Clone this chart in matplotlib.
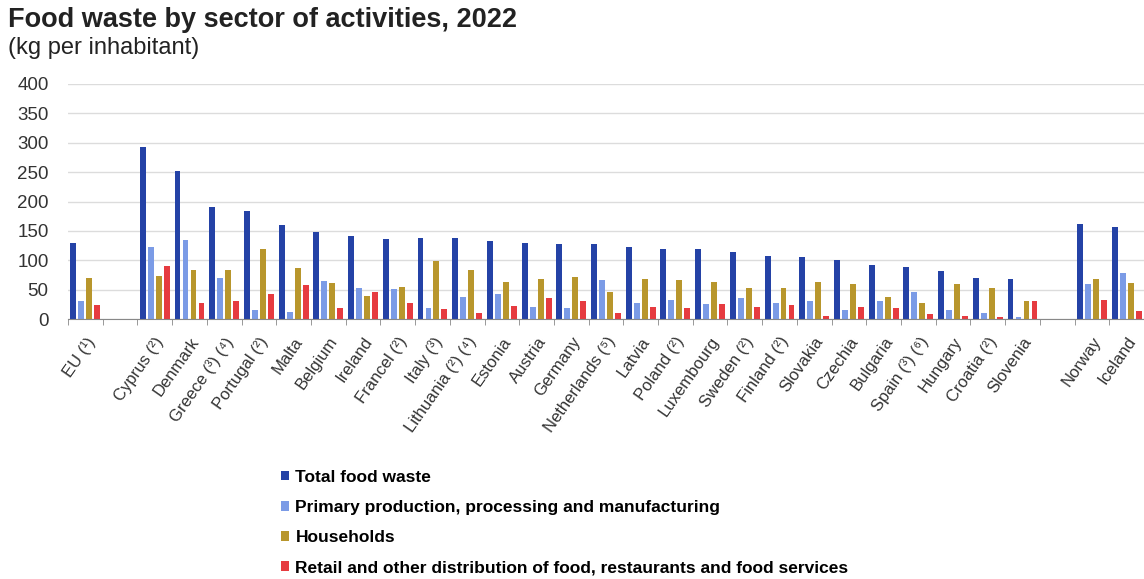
import matplotlib
matplotlib.use("Agg")
import matplotlib.pyplot as plt
import numpy as np

plt.rcParams['font.family'] = ['Liberation Sans', 'DejaVu Sans']

# '' = empty slot in the chart
countries = ['EU (¹)', '', 'Cyprus (²)', 'Denmark', 'Greece (³) (⁴)', 'Portugal (²)', 'Malta',
             'Belgium', 'Ireland', 'Francel (²)', 'Italy (³)', 'Lithuania (²) (⁴)', 'Estonia',
             'Austria', 'Germany', 'Netherlands (⁵)', 'Latvia', 'Poland (²)', 'Luxembourg',
             'Sweden (²)', 'Finland (²)', 'Slovakia', 'Czechia', 'Bulgaria', 'Spain (³) (⁶)',
             'Hungary', 'Croatia (²)', 'Slovenia', '', 'Norway', 'Iceland']

total = [129, np.nan, 292, 252, 191, 183, 160, 148, 142, 137, 138, 138, 132, 130, 128, 128,
         122, 120, 120, 114, 107, 105, 100, 92, 88, 82, 70, 68, np.nan, 162, 157]
primary = [31, np.nan, 122, 135, 70, 15, 12, 64, 53, 51, 19, 37, 43, 20, 18, 67,
           28, 32, 26, 35, 28, 30, 15, 30, 46, 15, 11, 3, np.nan, 59, 78]
households = [70, np.nan, 74, 84, 84, 120, 86, 62, 40, 55, 98, 84, 63, 68, 72, 46,
              68, 67, 63, 53, 53, 63, 59, 38, 28, 59, 53, 30, np.nan, 68, 61]
retail = [24, np.nan, 91, 27, 31, 43, 58, 18, 46, 27, 17, 11, 22, 35, 30, 11,
          20, 19, 26, 20, 23, 5, 20, 18, 9, 5, 3, 30, np.nan, 32, 13]

series = [
    ('Total food waste', total, '#2442a6'),
    ('Primary production, processing and manufacturing', primary, '#7b9be6'),
    ('Households', households, '#b8962c'),
    ('Retail and other distribution of food, restaurants and food services', retail, '#e63b40'),
]

fig = plt.figure(figsize=(11.44, 5.79), dpi=100)
ax = fig.add_axes([68/1144, 260/579, 1 - 68/1144, 235/579])

x = np.arange(len(countries))
w = 0.17
pitch = 0.23
for i, (name, vals, col) in enumerate(series):
    ax.bar(x + (i - 1.5) * pitch, vals, width=w, color=col, label=name)

ax.set_xlim(-0.5, len(countries) - 0.5)
ax.set_ylim(0, 400)
ax.set_yticks(range(0, 401, 50))
ax.yaxis.grid(True, color='#dcdcdc', linewidth=1)
ax.set_axisbelow(True)
for s in ['top', 'right', 'left']:
    ax.spines[s].set_visible(False)
ax.spines['bottom'].set_color('#888888')
ax.tick_params(axis='y', length=0, labelsize=13.5, labelcolor='#333333', pad=14)

ax.set_xticks(x)
ax.set_xticklabels(countries, rotation=55, ha='right', rotation_mode='anchor',
                   fontsize=12, color='#333333')
ax.tick_params(axis='x', length=0, pad=11)
ax.set_xticks(np.arange(-0.5, len(countries)), minor=True)
ax.tick_params(axis='x', which='minor', length=4, color='#888888')

fig.text(8/1144, 1 - 20/579, 'Food waste by sector of activities, 2022', fontsize=19.5,
         fontweight='bold', color='#222222', va='center')
fig.text(8/1144, 1 - 48/579, '(kg per inhabitant)', fontsize=17, color='#222222', va='center')

fig.legend(loc='upper left', bbox_to_anchor=(272/1144, 1 - 461/579), frameon=False,
           prop={'weight': 'bold', 'size': 12.5}, handlelength=0.5, handleheight=0.5,
           handletextpad=0.35, labelspacing=0.88, borderpad=0)

fig.savefig('out.png', dpi=100)
